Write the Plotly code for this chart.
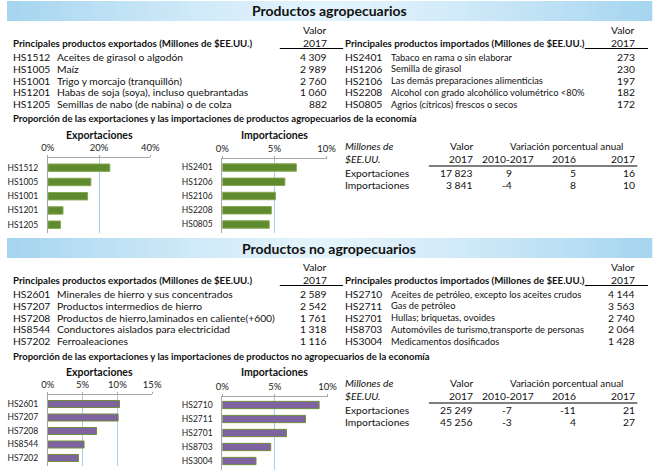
import plotly.graph_objects as go

W, H = 661, 470
FONT = "Lato, Carlito, Calibri, sans-serif"

# ---------------- data ----------------
title_agro = "Productos agropecuarios"
title_noagro = "Productos no agropecuarios"

agro_exp_codes = ["HS1512", "HS1005", "HS1001", "HS1201", "HS1205"]
agro_exp_desc = ["Aceites de girasol o algodón", "Maíz", "Trigo y morcajo (tranquillón)",
                 "Habas de soja (soya), incluso quebrantadas", "Semillas de nabo (de nabina) o de colza"]
agro_exp_vals = [4309, 2989, 2760, 1060, 882]
agro_exp_share = [24.2, 16.8, 15.5, 5.9, 4.9]

agro_imp_codes = ["HS2401", "HS1206", "HS2106", "HS2208", "HS0805"]
agro_imp_desc = ["Tabaco en rama o sin elaborar", "Semilla de girasol",
                 "Las demás preparaciones alimenticias",
                 "Alcohol con grado alcohólico volumétrico <80%", "Agrios (cítricos) frescos o secos"]
agro_imp_vals = [273, 230, 197, 182, 172]
agro_imp_share = [7.1, 6.0, 5.1, 4.7, 4.5]

noagro_exp_codes = ["HS2601", "HS7207", "HS7208", "HS8544", "HS7202"]
noagro_exp_desc = ["Minerales de hierro y sus concentrados", "Productos intermedios de hierro",
                   "Productos de hierro,laminados en caliente(+600)",
                   "Conductores aislados para electricidad", "Ferroaleaciones"]
noagro_exp_vals = [2589, 2542, 1761, 1318, 1116]
noagro_exp_share = [10.3, 10.1, 7.0, 5.2, 4.4]

noagro_imp_codes = ["HS2710", "HS2711", "HS2701", "HS8703", "HS3004"]
noagro_imp_desc = ["Aceites de petróleo, excepto los aceites crudos", "Gas de petróleo",
                   "Hullas; briquetas, ovoides", "Automóviles de turismo,transporte de personas",
                   "Medicamentos dosificados"]
noagro_imp_vals = [4144, 3563, 2740, 2064, 1428]
noagro_imp_share = [9.2, 7.9, 6.1, 4.6, 3.2]

summary_rows = ["Exportaciones", "Importaciones"]
agro_sum_value = [17823, 3841]
agro_sum_g1017 = [9, -4]
agro_sum_g16 = [5, 8]
agro_sum_g17 = [16, 10]
noagro_sum_value = [25249, 45256]
noagro_sum_g1017 = [-7, -3]
noagro_sum_g16 = [-11, 4]
noagro_sum_g17 = [21, 27]

exp_ticks_agro = [0, 20, 40]
imp_ticks_agro = [0, 5, 10]
exp_ticks_noagro = [0, 5, 10, 15]
imp_ticks_noagro = [0, 5, 10]

GREEN = "#5f8b2e"
GREEN_LINE = "#86a851"
PURPLE = "#7f63a1"
PURPLE_LINE = "#6f8f3a"
GRID = "#a9cfea"
AXIS = "#a6a6a6"
REG = 10.3
BOLD = 9.7


def fmt(v):
    return f"{v:,}".replace(",", " ")


def px(x):
    return x / W


def py(y):
    return 1 - y / H


annotations = []
shapes = []


def text(x, y, s, anchor="left", bold=False, italic=False, size=None, color="#111111"):
    if size is None:
        size = BOLD if bold else REG
    if bold:
        s = "<b>" + s + "</b>"
    if italic:
        s = "<i>" + s + "</i>"
    annotations.append(dict(x=px(x), y=py(y), xref="paper", yref="paper", text=s,
                            showarrow=False, xanchor=anchor, yanchor="middle",
                            borderpad=0,
                            font=dict(size=size, family=FONT, color=color)))


def hline(x0, x1, y, color="black", width=1.2):
    shapes.append(dict(type="line", xref="paper", yref="paper", x0=px(x0), x1=px(x1),
                       y0=py(y), y1=py(y), line=dict(color=color, width=width)))


def banner(y0, y1):
    n = 60
    edge = (165, 213, 240)
    center = (228, 244, 252)
    for i in range(n):
        t = abs((i + 0.5) / n - 0.5) * 2
        t = t ** 1.3
        c = tuple(int(center[k] + (edge[k] - center[k]) * t) for k in range(3))
        shapes.append(dict(type="rect", xref="paper", yref="paper",
                           x0=i / n, x1=(i + 1) / n + 0.002, y0=py(y1), y1=py(y0),
                           fillcolor="rgb(%d,%d,%d)" % c, line=dict(width=0), layer="below"))


fig = go.Figure()


def chart(n, cats, vals, color, lcolor, x0, x1, ytop, ybot, c_first, c_last, ticks):
    sp = (c_last - c_first) / 4.0
    r_top = -(c_first - ytop) / sp
    r_bot = 4 + (ybot - c_last) / sp
    xa = "x" if n == 1 else "x%d" % n
    ya = "y" if n == 1 else "y%d" % n
    fig.add_trace(go.Bar(x=vals, y=cats, orientation="h", width=0.52,
                         marker=dict(color=color, line=dict(color=lcolor, width=1)),
                         xaxis=xa, yaxis=ya, showlegend=False, hoverinfo="skip"))
    xkey = "xaxis" if n == 1 else "xaxis%d" % n
    ykey = "yaxis" if n == 1 else "yaxis%d" % n
    fig.layout[xkey] = dict(domain=[px(x0), px(x1)], range=[0, ticks[-1]], side="top",
                            anchor=ya, tickmode="array", tickvals=ticks,
                            ticktext=["%d%%" % t for t in ticks],
                            showgrid=True, gridcolor=GRID, gridwidth=1, zeroline=False,
                            showline=True, linecolor=AXIS, linewidth=1,
                            ticks="outside", ticklen=2, tickcolor=AXIS,
                            tickfont=dict(size=9.5, family=FONT, color="#222222"),
                            fixedrange=True)
    fig.layout[ykey] = dict(domain=[py(ybot), py(ytop)], range=[r_bot, r_top],
                            anchor=xa, type="category",
                            showline=True, linecolor=AXIS, linewidth=1, showgrid=False,
                            ticks="", ticklabelstandoff=7,
                            tickfont=dict(size=8.5, family=FONT, color="#222222"),
                            fixedrange=True)


def section(b, title, ecodes, edesc, evals, icodes, idesc, ivals, prop_title,
            sum_value, g1017, g16, g17):
    banner(1 + b, 21 + b)
    text(331, 11 + b, title, "center", bold=True, size=14)
    # top tables
    text(329, 30 + b, "Valor", "right")
    text(329, 43 + b, "2017", "right")
    text(646, 30 + b, "Valor", "right")
    text(646, 43 + b, "2017", "right")
    text(5, 43 + b, "Principales productos exportados (Millones de $EE.UU.)", bold=True)
    text(346, 43 + b, "Principales productos importados (Millones de $EE.UU.)", bold=True)
    hline(280, 345, 48.5 + b)
    hline(593, 658, 48.5 + b)
    for i in range(5):
        y = 57 + i * 11.8 + b
        text(5, y, ecodes[i])
        text(50, y, edesc[i])
        text(329, y, fmt(evals[i]), "right")
        text(346, y, icodes[i])
        text(393, y, idesc[i], size=9.3)
        text(646, y, fmt(ivals[i]), "right")
    text(5, 119 + b, prop_title, bold=True, size=9.5)
    text(95, 135 + b, "Exportaciones", "center", bold=True, size=10.5)
    text(275, 135 + b, "Importaciones", "center", bold=True, size=10.5)
    # summary table
    text(346, 146 + b, "Millones de", italic=True)
    text(346, 159 + b, "$EE.UU.", italic=True)
    text(467, 146 + b, "Valor", "center")
    text(574, 146 + b, "Variación porcentual anual", "center", size=9.8)
    text(479, 159 + b, "2017", "right")
    text(514, 159 + b, "2010-2017", "center")
    text(585, 159 + b, "2016", "right")
    text(646, 159 + b, "2017", "right")
    hline(433, 647, 166 + b)
    for i in range(2):
        y = 172.5 + i * 12.3 + b
        text(346, y, summary_rows[i])
        text(479, y, fmt(sum_value[i]), "right")
        text(519, y, str(g1017[i]), "right")
        text(585, y, str(g16[i]), "right")
        text(646, y, str(g17[i]), "right")


section(0, title_agro, agro_exp_codes, agro_exp_desc, agro_exp_vals,
        agro_imp_codes, agro_imp_desc, agro_imp_vals,
        "Proporción de las exportaciones y las importaciones de productos agropecuarios de la economía",
        agro_sum_value, agro_sum_g1017, agro_sum_g16, agro_sum_g17)
section(237, title_noagro, noagro_exp_codes, noagro_exp_desc, noagro_exp_vals,
        noagro_imp_codes, noagro_imp_desc, noagro_imp_vals,
        "Proporción de las exportaciones y las importaciones de productos no agropecuarios de la economía",
        noagro_sum_value, noagro_sum_g1017, noagro_sum_g16, noagro_sum_g17)

chart(1, agro_exp_codes, agro_exp_share, GREEN, GREEN_LINE, 42, 147, 158, 233, 167.7, 224.7, exp_ticks_agro)
chart(2, agro_imp_codes, agro_imp_share, GREEN, GREEN_LINE, 221, 328, 159, 233, 167.5, 224.5, imp_ticks_agro)
chart(3, noagro_exp_codes, noagro_exp_share, PURPLE, PURPLE_LINE, 42, 149, 395, 466, 404, 458, exp_ticks_noagro)
chart(4, noagro_imp_codes, noagro_imp_share, PURPLE, PURPLE_LINE, 221, 329, 397, 470, 405, 461, imp_ticks_noagro)

fig.update_layout(width=W, height=H, margin=dict(l=0, r=0, t=0, b=0),
                  paper_bgcolor="white", plot_bgcolor="rgba(0,0,0,0)",
                  annotations=annotations, shapes=shapes, bargap=0.4,
                  font=dict(family=FONT, size=9, color="#111111"))

fig.write_html("out.html",
               config={"displayModeBar": False},
               post_script="document.body.style.margin='0px';"
                           "document.body.style.overflow='hidden';")
